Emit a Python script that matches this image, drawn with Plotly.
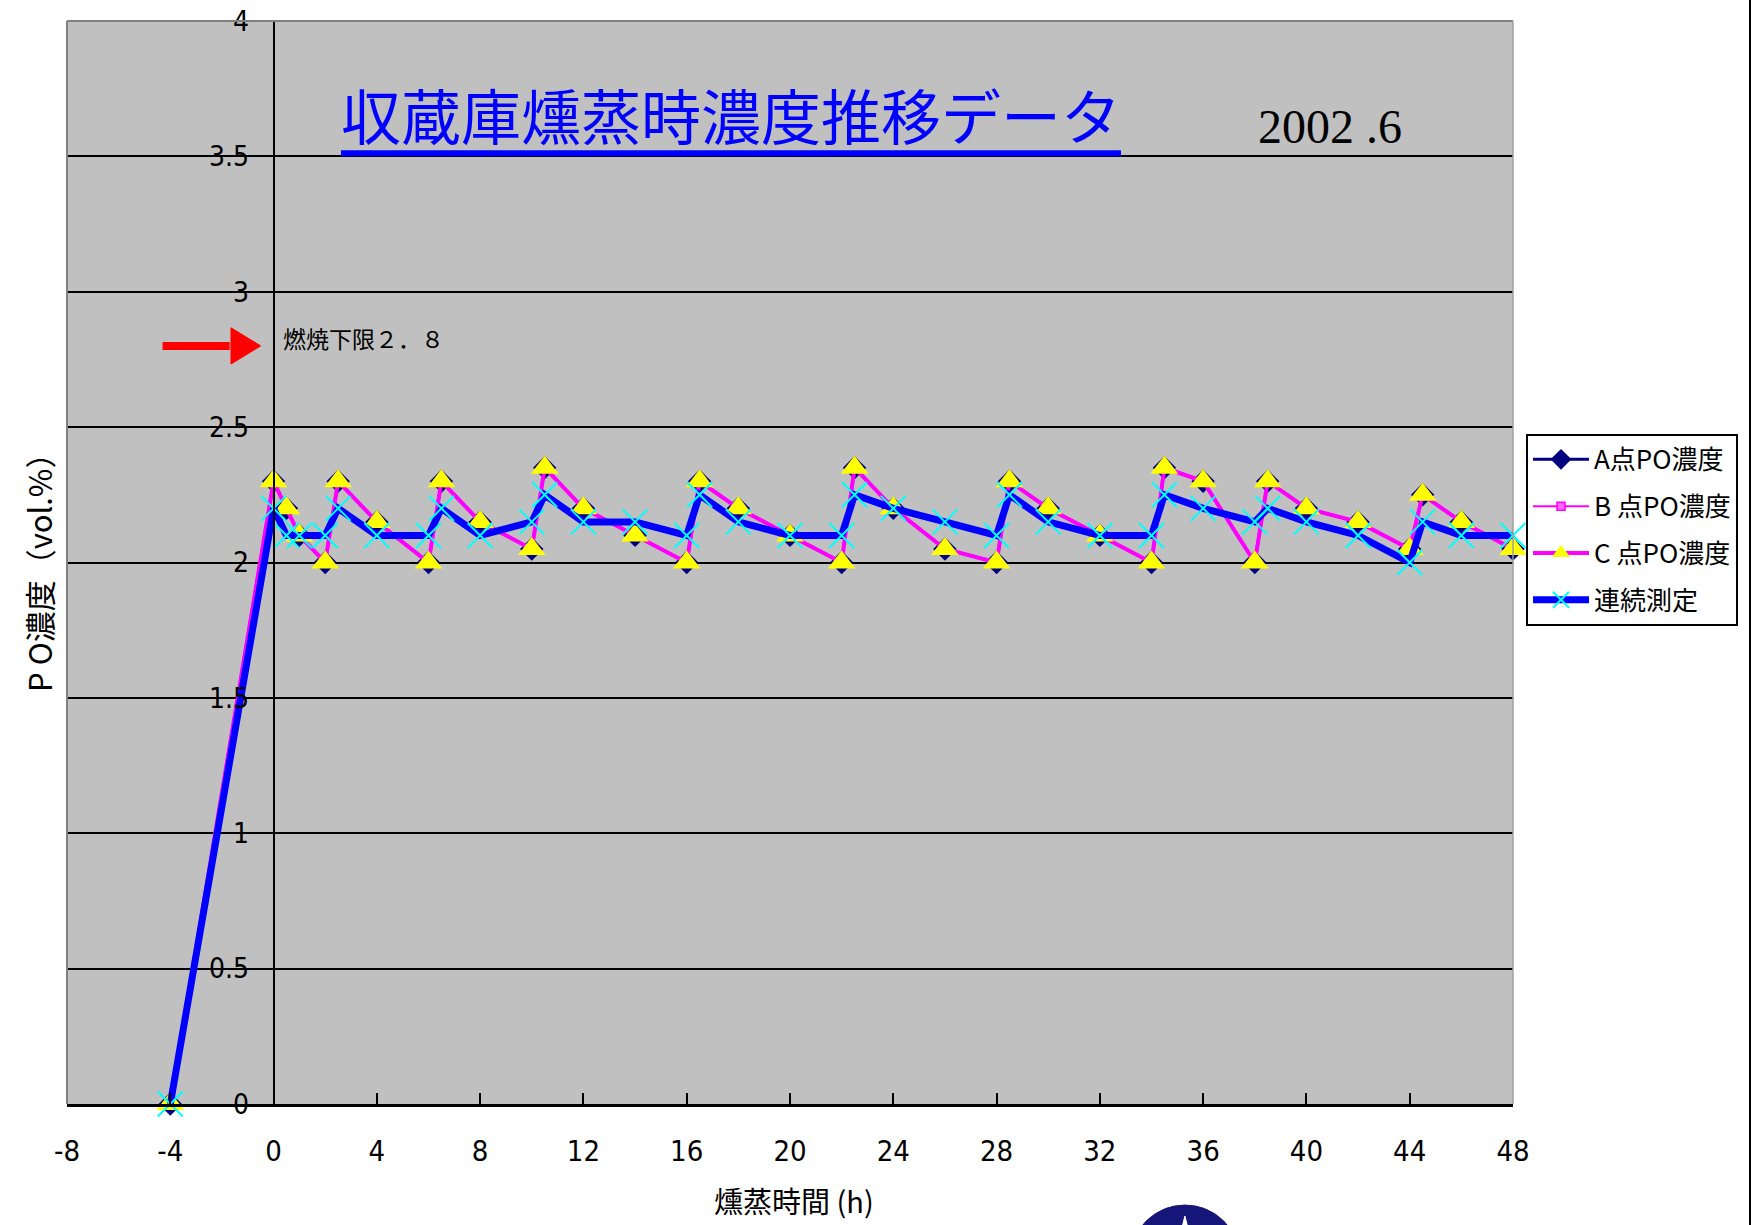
import plotly.graph_objects as go

# ---- data -------------------------------------------------------------
# fumigation time (h) at which each point was sampled
times = [-4, 0, 0.5, 1, 2, 2.5, 4, 6, 6.5, 8, 10, 10.5, 12, 14, 16, 16.5, 18, 20, 22, 22.5,
         24, 26, 28, 28.5, 30, 32, 34, 34.5, 36, 38, 38.5, 40, 42, 44, 44.5, 46, 48]

# PO concentration (vol.%) at sampling points A, B, C
conc_a = [0, 2.3, 2.2, 2.1, 2.0, 2.3, 2.15, 2.0, 2.3, 2.15, 2.05, 2.35, 2.2, 2.1, 2.0, 2.3,
          2.2, 2.1, 2.0, 2.35, 2.2, 2.05, 2.0, 2.3, 2.2, 2.1, 2.0, 2.35, 2.3, 2.0, 2.3, 2.2,
          2.15, 2.05, 2.25, 2.15, 2.05]
conc_b = [0, 2.3, 2.2, 2.1, 2.0, 2.3, 2.15, 2.0, 2.3, 2.15, 2.05, 2.35, 2.2, 2.1, 2.0, 2.3,
          2.2, 2.1, 2.0, 2.35, 2.2, 2.05, 2.0, 2.3, 2.2, 2.1, 2.0, 2.35, 2.3, 2.0, 2.3, 2.2,
          2.15, 2.05, 2.25, 2.15, 2.05]
conc_c = [0, 2.3, 2.2, 2.1, 2.0, 2.3, 2.15, 2.0, 2.3, 2.15, 2.05, 2.35, 2.2, 2.1, 2.0, 2.3,
          2.2, 2.1, 2.0, 2.35, 2.2, 2.05, 2.0, 2.3, 2.2, 2.1, 2.0, 2.35, 2.3, 2.0, 2.3, 2.2,
          2.15, 2.05, 2.25, 2.15, 2.05]
# continuous monitor readings
conc_cont = [0, 2.2, 2.1, 2.1, 2.1, 2.2, 2.1, 2.1, 2.2, 2.1, 2.15, 2.25, 2.15, 2.15, 2.1, 2.25,
             2.15, 2.1, 2.1, 2.25, 2.2, 2.15, 2.1, 2.25, 2.15, 2.1, 2.1, 2.25, 2.2, 2.15, 2.2,
             2.15, 2.1, 2.0, 2.15, 2.1, 2.1]

series_names = ["A点PO濃度", "B 点PO濃度", "C 点PO濃度", "連続測定"]
x_ticks = list(range(-8, 49, 4))
x_tick_text = ["-8", "-4", "0", "4", "8", "12", "16", "20", "24", "28", "32", "36", "40", "44", "48"]
y_ticks = [0, 0.5, 1, 1.5, 2, 2.5, 3, 3.5, 4]
y_tick_text = ["0", "0.5", "1", "1.5", "2", "2.5", "3", "3.5", "4"]
LOWER_LIMIT = 2.8  # lower flammability limit of PO (vol.%)

X_MIN, X_MAX = -8, 48
NARROW = "Liberation Sans Narrow, Arial Narrow, DejaVu Sans Condensed, sans-serif"
JP = "Noto Sans CJK JP, sans-serif"

fig = go.Figure()

fig.add_trace(go.Scatter(
    x=times, y=conc_a, name=series_names[0], mode="lines+markers", legendgroup="a",
    line=dict(color="#000080", width=3),
    marker=dict(symbol="diamond", size=18, color="#000080"),
    cliponaxis=False))
fig.add_trace(go.Scatter(
    x=times, y=conc_b, name=series_names[1], mode="lines+markers", legendgroup="b",
    line=dict(color="#FF00FF", width=2),
    marker=dict(symbol="square", size=8, color="#FF66FF", line=dict(color="#FF00FF", width=1.5)),
    cliponaxis=False))
fig.add_trace(go.Scatter(
    x=times, y=conc_c, name=series_names[2], mode="lines+markers", legendgroup="c",
    line=dict(color="#FF00FF", width=4),
    marker=dict(symbol="triangle-up", size=24, color="#FFFF00"),
    cliponaxis=False))
fig.add_trace(go.Scatter(
    x=times, y=conc_cont, name=series_names[3], mode="lines+markers", legendgroup="d",
    line=dict(color="#0000FF", width=7),
    marker=dict(symbol="x-thin", size=25, line=dict(color="#00FFFF", width=2)),
    cliponaxis=False))

# plot-area frame (grey) and the outer chart edge on the right
frame = dict(color="#808080", width=2)
shapes = [
    dict(type="line", xref="paper", yref="paper", x0=0, x1=1, y0=1, y1=1, line=frame, layer="above"),
    dict(type="line", xref="paper", yref="paper", x0=0, x1=0, y0=0, y1=1, line=frame, layer="above"),
    dict(type="line", xref="paper", yref="paper", x0=1, x1=1, y0=0, y1=1,
         line=dict(color="#A0A0A0", width=1.5), layer="above"),
    dict(type="line", xref="paper", yref="paper", x0=1.1639, x1=1.1639, y0=-0.12, y1=1.02,
         line=dict(color="black", width=2)),
    # title underline
    dict(type="line", xref="paper", yref="paper", x0=0.1895, x1=0.7289, y0=0.878, y1=0.878,
         line=dict(color="#0000FF", width=6)),
    # red arrow pointing at the flammability limit
    dict(type="line", xref="x", yref="y", x0=-4.3, x1=-1.7, y0=LOWER_LIMIT, y1=LOWER_LIMIT,
         line=dict(color="#FF0000", width=8)),
    dict(type="path", xref="x", yref="y",
         path=f"M -1.65,{LOWER_LIMIT + 0.067} L -0.5,{LOWER_LIMIT} L -1.65,{LOWER_LIMIT - 0.067} Z",
         fillcolor="#FF0000", line=dict(color="#FF0000", width=1)),
    # emblem at the bottom edge
    dict(type="circle", xref="paper", yref="paper", x0=0.7351, x1=0.8112, y0=-0.1948, y1=-0.0933,
         fillcolor="#15157A", line=dict(color="#15157A", width=1)),
    dict(type="path", xref="paper", yref="paper",
         path="M 0.7710,-0.1145 L 0.7731,-0.1035 L 0.7752,-0.1145 Z",
         fillcolor="white", line=dict(color="white", width=1)),
]

annotations = [
    dict(xref="paper", yref="paper", x=0.4592, y=0.9145, text="収蔵庫燻蒸時濃度推移データ",
         showarrow=False, font=dict(family=JP, size=60, color="#0000FF"),
         xanchor="center", yanchor="middle"),
    dict(xref="paper", yref="paper", x=0.8734, y=0.9030, text="2002 .6",
         showarrow=False, font=dict(family="Liberation Serif, Times New Roman, serif", size=48, color="black"),
         xanchor="center", yanchor="middle"),
    dict(xref="x", yref="y", x=0.3, y=LOWER_LIMIT + 0.03, text="燃焼下限２．８",
         showarrow=False, font=dict(family=JP, size=23, color="black"),
         xanchor="left", yanchor="middle"),
    dict(xref="paper", yref="paper", x=-0.0194, y=0.4977, text="P O濃度（vol.%）",
         textangle=-90, showarrow=False, font=dict(family=JP, size=31, color="black"),
         xanchor="center", yanchor="middle"),
    dict(xref="paper", yref="paper", x=0.5028, y=-0.0886, text="燻蒸時間 (h)",
         showarrow=False, font=dict(family=JP, size=29, color="black"),
         xanchor="center", yanchor="middle"),
]

fig.update_layout(
    width=1753, height=1225, autosize=False,
    margin=dict(l=67, r=240, t=21, b=121, pad=0),
    paper_bgcolor="white", plot_bgcolor="#C0C0C0",
    showlegend=True,
    legend=dict(x=1.009, y=0.6187, xanchor="left", yanchor="top",
                bgcolor="white", bordercolor="black", borderwidth=2,
                font=dict(family=JP, size=26, color="black"),
                tracegroupgap=10, itemwidth=56),
    shapes=shapes, annotations=annotations,
)

fig.update_xaxes(
    range=[X_MIN, X_MAX], tickmode="array", tickvals=x_ticks, ticktext=x_tick_text,
    ticks="inside", ticklen=11, tickwidth=2, tickcolor="black",
    showline=True, linecolor="black", linewidth=2.5,
    showgrid=False, zeroline=False, automargin=False,
    tickfont=dict(family=NARROW, size=29, color="black"),
    ticklabelstandoff=19,
)
fig.update_yaxes(
    range=[0, 4], tickmode="array", tickvals=y_ticks, ticktext=y_tick_text,
    anchor="free", position=(0 - X_MIN) / (X_MAX - X_MIN),
    ticks="inside", ticklen=8, tickwidth=2, tickcolor="black",
    showline=True, linecolor="black", linewidth=2,
    showgrid=True, gridcolor="black", gridwidth=1.5, zeroline=False, automargin=False,
    tickfont=dict(family=NARROW, size=28, color="black"),
    ticklabelstandoff=18,
)

fig.write_html("out.html", post_script="document.body.style.margin='0';")
